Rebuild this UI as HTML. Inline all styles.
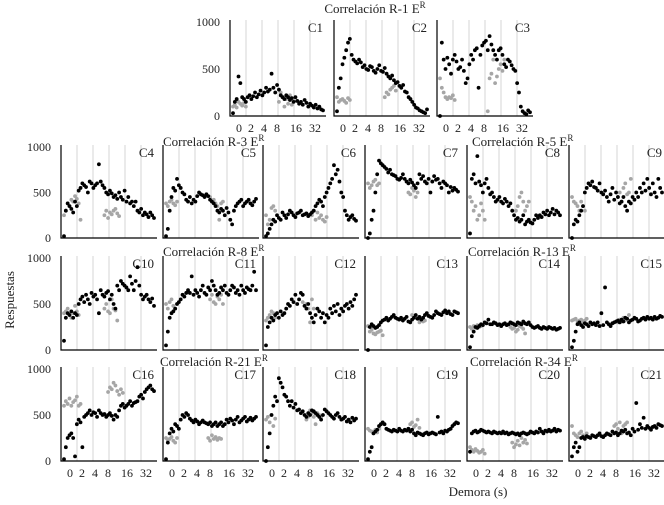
<!DOCTYPE html>
<html><head><meta charset="utf-8"><style>
body{margin:0;background:#fff;}
svg text{font-family:"Liberation Serif",serif;fill:#222;}
</style></head><body>
<svg id="chart" width="664" height="500" viewBox="0 0 664 500" xmlns="http://www.w3.org/2000/svg">
<text x="14" y="300" font-size="13" text-anchor="middle" transform="rotate(-90 14 300)">Respuestas</text>
<text x="478" y="496" font-size="13" text-anchor="middle">Demora (s)</text>
</svg>
<script>
const panelNames = ["C1","C2","C3","C4","C5","C6","C7","C8","C9","C10","C11","C12","C13","C14","C15","C16","C17","C18","C19","C20","C21"];
const yTicks = [0, 500, 1000];
const yTickLabels = ["0","500","1000"];
const xTickLabels = ["0","2","4","8","16","32"];
const titles = ["Correlación R-1","Correlación R-3","Correlación R-5","Correlación R-8","Correlación R-13","Correlación R-21","Correlación R-34"];
const blackSeries = [
[30,150,180,420,350,200,180,150,200,220,180,210,250,200,230,270,220,250,300,260,280,450,300,250,330,280,220,200,180,220,200,170,190,150,200,160,130,150,120,170,140,100,130,110,90,120,80,100,70,60],
[50,300,400,550,620,700,780,820,650,600,580,560,600,570,520,540,500,490,530,520,480,460,500,540,480,470,510,450,420,400,430,380,350,360,320,300,330,260,250,200,180,150,120,90,80,60,50,40,30,70],
[0,780,600,500,620,550,450,600,650,580,500,520,600,480,350,400,550,650,600,700,720,300,650,750,780,800,700,850,760,700,650,600,700,720,650,550,520,600,580,540,500,480,350,250,100,50,30,20,60,40],
[20,300,380,350,320,280,400,350,520,550,600,580,560,500,620,600,550,580,600,810,620,580,550,500,480,520,490,450,470,430,500,450,420,520,400,450,380,400,350,400,300,280,320,250,280,260,230,280,250,220],
[20,100,300,450,550,520,650,580,550,500,480,420,400,450,380,420,400,460,500,480,470,450,480,460,420,400,380,350,300,280,320,300,250,330,280,200,150,300,350,380,400,420,350,380,400,420,380,360,400,430],
[20,50,100,150,200,180,250,220,200,280,250,220,260,300,280,250,230,270,280,300,250,260,270,240,260,280,300,350,380,420,400,350,450,500,550,600,650,800,700,750,620,500,450,300,250,200,230,250,210,190],
[0,50,200,300,500,700,850,820,800,780,760,720,750,700,690,680,650,640,660,700,650,620,600,640,610,580,550,600,700,650,680,620,600,650,500,620,680,640,650,600,550,620,600,580,500,560,520,550,530,510],
[50,650,700,600,900,620,580,500,600,650,550,480,500,450,400,420,450,400,380,430,400,350,380,300,250,200,220,180,200,250,150,180,200,170,160,200,250,220,250,230,280,260,300,250,280,320,260,300,280,250],
[0,150,200,180,250,300,350,500,550,600,580,620,560,550,520,600,500,480,520,450,400,480,550,420,500,450,380,400,450,350,300,400,380,450,420,500,450,550,500,600,520,650,550,480,600,500,450,650,550,500],
[100,350,400,380,420,350,400,380,500,550,580,520,600,550,500,620,580,600,550,400,650,600,580,620,640,550,600,500,450,700,650,750,720,700,680,650,800,720,650,750,900,700,600,550,580,600,550,520,560,480],
[50,200,350,400,420,450,500,520,550,600,580,620,650,620,800,600,650,620,580,650,700,620,600,680,650,750,700,650,600,620,680,650,700,620,600,650,700,680,620,650,600,700,650,620,680,660,650,700,850,650],
[50,250,300,350,320,380,400,350,420,380,400,450,500,480,550,520,600,500,550,620,600,480,450,500,400,350,300,380,450,420,350,400,300,380,350,450,400,480,420,500,380,450,420,480,500,450,520,480,550,600],
[0,250,280,260,240,250,270,300,320,330,350,320,340,360,380,350,340,330,350,320,340,360,310,300,330,350,380,340,360,330,350,380,400,370,360,350,380,420,400,390,380,410,430,400,420,390,380,420,410,400],
[30,150,200,250,240,260,280,270,300,290,330,280,280,300,290,270,280,260,280,290,270,280,300,290,280,270,300,290,280,310,290,280,300,270,250,240,250,260,240,230,250,240,230,250,240,230,240,220,230,240],
[30,100,200,280,300,270,250,290,280,260,300,280,290,270,300,260,400,270,680,300,280,260,290,300,310,320,300,330,310,350,340,300,320,330,350,340,310,320,340,350,330,360,340,350,330,360,340,350,370,360],
[20,150,250,280,300,250,50,400,450,420,150,480,500,520,550,500,530,520,480,550,520,500,510,480,500,520,490,450,500,480,550,600,620,580,600,620,650,600,630,640,650,700,720,680,750,780,800,820,780,760],
[20,200,300,350,320,400,380,350,450,500,480,520,500,460,440,420,450,430,400,420,440,420,410,400,420,380,400,420,380,400,420,380,400,450,420,460,440,400,450,480,420,440,460,480,430,450,470,440,460,480],
[0,150,300,500,600,700,650,900,850,800,720,700,650,600,650,580,620,550,560,520,540,500,480,520,500,550,540,520,500,480,450,500,560,540,520,500,480,460,500,520,480,450,460,480,430,450,420,470,440,460],
[20,100,150,300,320,340,380,400,420,400,350,340,330,320,340,330,320,350,330,320,340,330,350,320,340,300,280,310,300,290,280,300,310,290,300,310,300,290,480,310,320,300,330,320,340,350,380,400,420,410],
[100,300,320,330,310,320,340,330,320,310,320,310,300,320,310,300,310,300,320,300,310,290,300,310,300,290,300,280,300,310,300,290,300,320,310,300,320,310,350,320,300,330,320,340,320,330,350,320,340,330],
[50,150,200,100,150,250,260,240,270,260,250,280,270,260,280,300,270,260,280,300,290,280,320,300,310,280,300,330,320,340,300,310,280,350,320,630,340,400,360,470,350,380,360,340,370,380,360,400,390,380]
];
const grayEarly = [
[100,120,90,150,130,110,140,100],
[200,150,170,180,160,140,190,170],
[400,300,250,200,180,200,190,220,170],
[250,300,380,350,420,400,460,430,380,200],
[380,350,400,420,380,360,400],
[250,150,200,330,350,300],
[600,550,580,620,640,580,600],
[450,400,300,350,200,250,380,300,200],
[450,400,380,350,300,400,350,300],
[400,420,450,380,350,400,480,420,380],
[500,450,520,550,480,450],
[320,350,380,420,400,350],
[260,200,220,180,170,190,200,210,160],
[250,230,260,240,270,250,260],
[320,330,340,310,320,330,300,320,340],
[600,650,620,680,600,640,660,700,600,620],
[250,230,240,260,220,200,250],
[450,480,420,500,380,460],
[350,330,320,300,340,310,350],
[150,120,100,130,110,90,100,120,80],
[380,300,280,260,300,320,280,250,300]
];
const grayLateStart = [25,26,26,22,24,25,22,25,25,22,24,20,24,22,25,24,23,22,21,23,23];
const grayLate = [
[150,250,200,100,180,130,220,120,160],
[200,250,230,280,300,320,270],
[50,400,450,600,350,420,500,550,480,600],
[250,300,220,280,260,300,320,270,240],
[450,400,420,380,350,200,380,400],
[250,300,200,280,220,250,200,180,230],
[500,480,550,520,450,500],
[300,350,450,500,400,300,350,400],
[450,500,400,550,600,480,500,650],
[450,500,420,400,550,450,430,320],
[550,600,520,500,580,550,600,500],
[520,480,500,450,300,550,450],
[380,360,350,340,300,330,310,320],
[250,230,240,200,220,260,250,230,180],
[300,330,310,350,320,340,380],
[750,800,780,850,820,760,720,780,740],
[250,220,280,240,260,230,250,240],
[450,480,550,520,480,400,520,500,480],
[330,350,400,420,370,390,450,360],
[200,150,180,220,170,250,200,230,190],
[380,400,350,420,300,380,400,420]
];

const NS = "http://www.w3.org/2000/svg";
const svg = document.getElementById("chart");
function mk(tag, attrs, parent){const e=document.createElementNS(NS,tag);for(const k in attrs)e.setAttribute(k,attrs[k]);(parent||svg).appendChild(e);return e;}

const W = 96;
const rowTops = [22,147,258,369], rowBots = [116,238,350,461];
const row1X = [230,334,437];
const rowX = [61,163,263,365,467,569];
const tickOff = [9,21,34,47,66,85];

function panelGeom(p){
  if(p<3) return {x0:row1X[p], row:0, col:p};
  const q=p-3; return {x0:rowX[q%6], row:1+Math.floor(q/6), col:q%6};
}

for(let p=0;p<21;p++){
  const g = panelGeom(p);
  const top=rowTops[g.row], bot=rowBots[g.row], x0=g.x0;
  const yS = v => bot - (v/1000)*(bot-top);
  const xS = i => x0 + 3 + i*(W-6)/49;
  const grp = mk("g",{});
  
  
  for(let k=1;k<=5;k++){
    const gl = mk("line",{x1:x0+k*W/6,x2:x0+k*W/6,y1:top-2,y2:bot,stroke:"#d4d4d4","stroke-width":1},grp);
    
    
  }
  const ax = mk("path",{d:`M${x0},${top-2}V${bot}H${x0+W}`,stroke:"#000",fill:"none","stroke-width":1.2},grp);
  
  
  const lbl = mk("text",{x:x0+W-3,y:top+10,"font-size":13,"text-anchor":"end"},grp);
  lbl.textContent = panelNames[p];
  
  
  if(g.col===0){
    yTicks.forEach((t,i)=>{
      const tl = mk("text",{x:x0-10,y:yS(t)+4,"font-size":12,"text-anchor":"end"},grp);
      tl.textContent = yTickLabels[i];
      
      
    });
  }
  if(g.row===0||g.row===3){
    xTickLabels.forEach((t,i)=>{
      const tl = mk("text",{x:x0+tickOff[i],y:bot+16,"font-size":12,"text-anchor":"middle"},grp);
      tl.textContent = t;
      
      
    });
  }
  grayEarly[p].forEach((v,i)=>{
    const c = mk("circle",{cx:xS(i),cy:yS(v),r:1.9,fill:"#a6a6a6"},grp);
    
    
  });
  grayLate[p].forEach((v,i)=>{
    const c = mk("circle",{cx:xS(grayLateStart[p]+i),cy:yS(v),r:1.9,fill:"#a6a6a6"},grp);
    
    
  });
  blackSeries[p].forEach((v,i)=>{
    const c = mk("circle",{cx:xS(i),cy:yS(v),r:1.9,fill:"#000"},grp);
    
    
  });
}

const titlePos = [[375,13],[163,146],[472,146],[163,256],[468,256],[160,366],[470,366]];
titles.forEach((t,i)=>{
  const tx = mk("text",{x:titlePos[i][0],y:titlePos[i][1],"font-size":13,"text-anchor":i===0?"middle":"start"});
  
  
  tx.appendChild(document.createTextNode(t+"  E"));
  const s = mk("tspan",{"font-size":9,dy:-5},tx);
  s.textContent = "R";
});
</script>
</body></html>
